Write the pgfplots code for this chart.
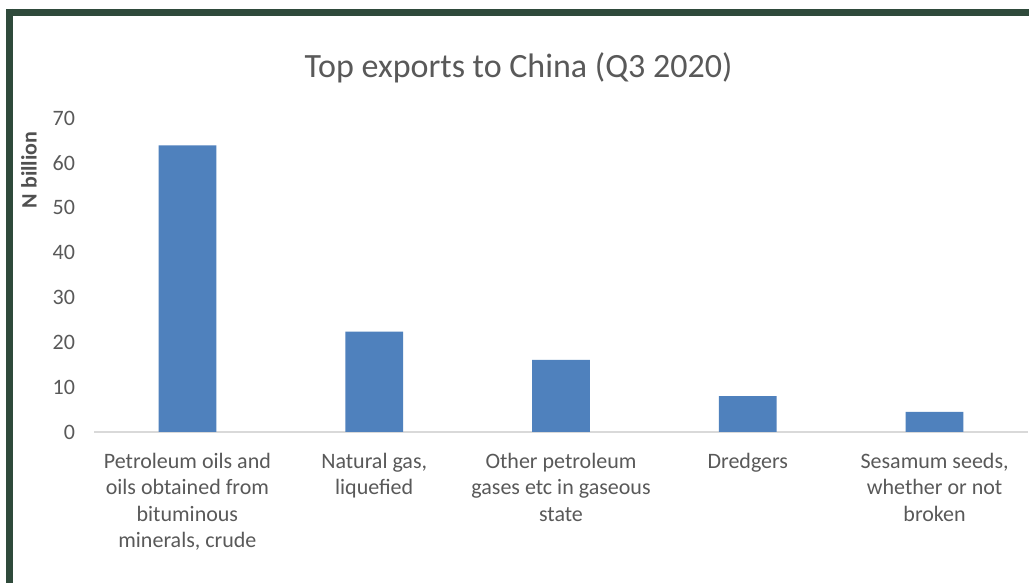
\documentclass[border=0pt]{standalone}
\usepackage{pgfplots}
\pgfplotsset{compat=1.18}
\usepackage{fontspec}
\setmainfont{Carlito}

\definecolor{barblue}{HTML}{4F81BD}
\definecolor{txtgray}{HTML}{595959}
\definecolor{basegray}{HTML}{D9D9D9}
\definecolor{frame}{HTML}{2F4A3B}

% 1 px of the reference = 0.5pt here
\begin{document}
\begin{tikzpicture}
	\useasboundingbox (0,0) rectangle (514.5pt,291.5pt);
	\fill[white] (0,0) rectangle (514.5pt,291.5pt);
	% dark frame (top and left edges only)
	\draw[frame, line width=3.4pt] (3pt,285.25pt) -- (514.5pt,285.25pt);
	\draw[frame, line width=3.4pt] (4.7pt,287pt) -- (4.7pt,0pt);

	\node[anchor=base, text=txtgray, font=\fontsize{17}{20}\selectfont]
		at (259.25pt,252.5pt) {Top exports to China (Q3 2020)};
	\node[rotate=90, text=txtgray!90!black, font=\fontsize{11}{13}\selectfont\bfseries]
		at (14.5pt,206.5pt) {N billion};

	\begin{axis}[
		at={(47pt,75.5pt)}, anchor=south west,
		scale only axis,
		width=467pt, height=157pt,
		xmin=-0.5, xmax=4.5,
		ymin=0, ymax=70,
		ytick={0,10,20,30,40,50,60,70},
		xtick={0,1,2,3,4},
		xticklabels={
			{Petroleum oils and\\oils obtained from\\bituminous\\minerals, crude},
			{Natural gas,\\liquefied},
			{Other petroleum\\gases etc in gaseous\\state},
			{Dredgers},
			{Sesamum seeds,\\whether or not\\broken}},
		axis lines*=left,
		axis line style={-},
		x axis line style={draw=basegray, line width=0.75pt},
		y axis line style={draw=none},
		major tick length=0pt,
		tick style={draw=none},
		/pgf/number format/assume math mode=true,
		ticklabel style={text=txtgray, font=\fontsize{11}{13.25}\selectfont},
		yticklabel style={xshift=-6pt},
		xticklabel style={align=center, yshift=-7pt},
		ybar, bar width=28.85pt,
	]
	\addplot[fill=barblue, draw=none] coordinates {
		(0,63.9) (1,22.4) (2,16.1) (3,8.0) (4,4.5)
	};
	\end{axis}
\end{tikzpicture}
\end{document}
